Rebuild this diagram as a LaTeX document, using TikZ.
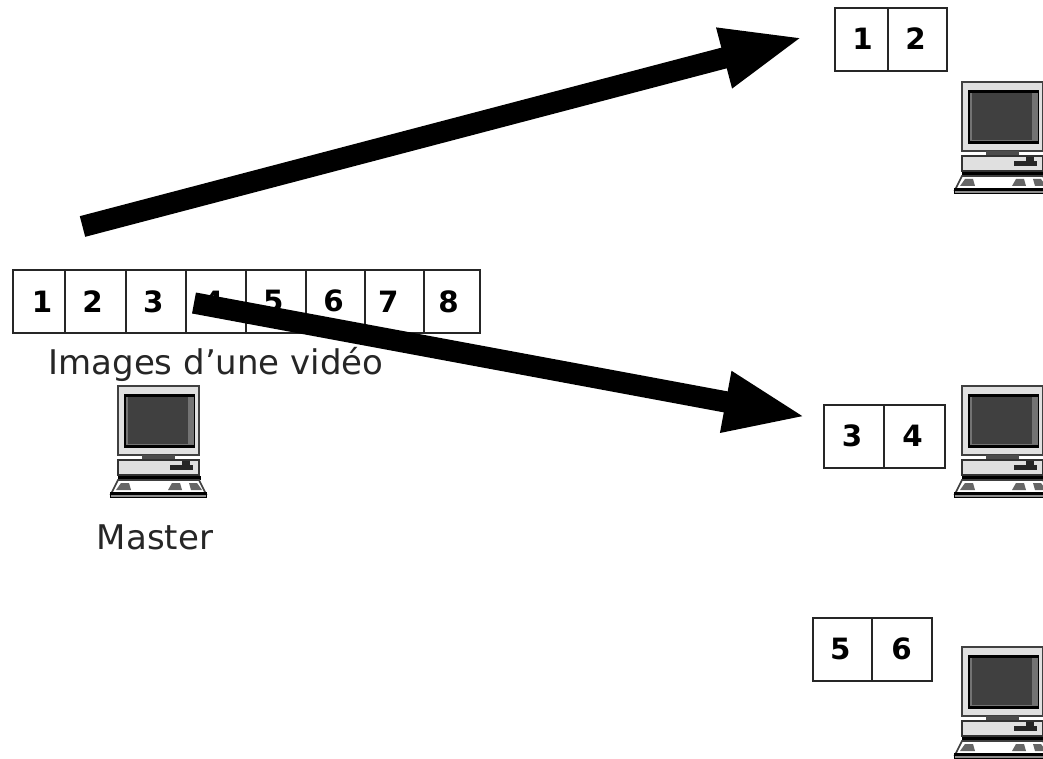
\documentclass[tikz,border=0pt]{standalone}
\usepackage{fontspec}
\setmainfont{DejaVu Sans}
\usetikzlibrary{arrows.meta, positioning}

\tikzset{
	cell/.style={draw=black!85, line width=1.3pt, outer sep=0pt, inner sep=0pt, minimum height=47pt, font=\fontsize{22}{22}\selectfont\bfseries},
	caption/.style={text=black!85, font=\fontsize{25.5}{26}\selectfont},
	bigarrow/.style={draw=black, line width=16pt, -{Triangle[length=62pt, width=42pt]}},
	computer/.pic={
		% monitor
		\draw [black!75, fill=black!12, line width=1.4pt] (8,0) rectangle (89,69);
		\fill [black] (14,8) rectangle (85,62);
		\fill [black!55] (16,11) rectangle (84,59);
		\fill [black!75] (18,11) rectangle (78,58);
		% stand
		\fill [black!70] (32,69) rectangle (65,73);
		% base
		\draw [black!80, fill=black!12, line width=1.4pt] (8,74) rectangle (89,89);
		\fill [black!85] (60,79) rectangle (83,84);
		\fill [black!85] (72,75) rectangle (80,79);
		% keyboard
		\fill [black] (8,90) rectangle (91,94);
		\draw [black!75, fill=white, line width=1.2pt] (8,94) -- (89,94) -- (96,108) -- (1,108) -- cycle;
		\fill [black!60] (11,97) -- (19,97) -- (21,104) -- (6,104) -- cycle;
		\fill [black!60] (62,97) -- (70,97) -- (72,104) -- (58,104) -- cycle;
		\fill [black!60] (79,97) -- (87,97) -- (92,104) -- (81,104) -- cycle;
		\fill [black] (0,106) rectangle (97,112);
		\fill [black!45] (1,109) rectangle (96,111);
	}
}

\begin{document}
\begin{tikzpicture}[x=0.75pt, y=-0.75pt]

\useasboundingbox (0,0) rectangle (1043,759);

\node [cell, minimum width=39pt, anchor=north west] (a1) at (13,270) {\kern4.5pt 1};
\node [cell, minimum width=46pt, right=0pt of a1] (a2) {\kern-4.5pt 2};
\node [cell, minimum width=45pt, right=0pt of a2] (a3) {\kern-4.5pt 3};
\node [cell, minimum width=45pt, right=0pt of a3] (a4) {\kern-4.5pt 4};
\node [cell, minimum width=45pt, right=0pt of a4] (a5) {\kern-4.5pt 5};
\node [cell, minimum width=44pt, right=0pt of a5] (a6) {\kern-3pt 6};
\node [cell, minimum width=44pt, right=0pt of a6] (a7) {\kern-9pt 7};
\node [cell, minimum width=42pt, right=0pt of a7] (a8) {\kern-4.5pt 8};

\node [caption] (video) at (216,364) {Images d'une vidéo};
\node [caption] (master) at (155,537) {Master};

\node [cell, minimum width=40pt, anchor=north west] (b1) at (835,8) {\kern1.5pt\raisebox{1.5pt}{1}};
\node [cell, minimum width=44pt, right=0pt of b1] (b2) {\kern-3pt\raisebox{1.5pt}{2}};

\node [cell, minimum width=45pt, anchor=north west] (c3) at (824,405) {\kern-3pt\raisebox{1.5pt}{3}};
\node [cell, minimum width=46pt, right=0pt of c3] (c4) {\kern-3pt\raisebox{1.5pt}{4}};

\node [cell, minimum width=44pt, anchor=north west] (d5) at (813,618) {\kern-3pt 5};
\node [cell, minimum width=45pt, right=0pt of d5] (d6) {6};

\pic (pcmaster) at (110,386) {computer};
\pic (pcone) at (954,82) {computer};
\pic (pctwo) at (954,386) {computer};
\pic (pcthree) at (954,647) {computer};

\coordinate (from1) at (82.5,226.5);
\coordinate (to1) at (804,37);
\coordinate (from2) at (194,303);
\coordinate (to2) at (807,417);

\draw [bigarrow] (from1) -- (to1);
\draw [bigarrow] (from2) -- (to2);

\end{tikzpicture}
\end{document}
